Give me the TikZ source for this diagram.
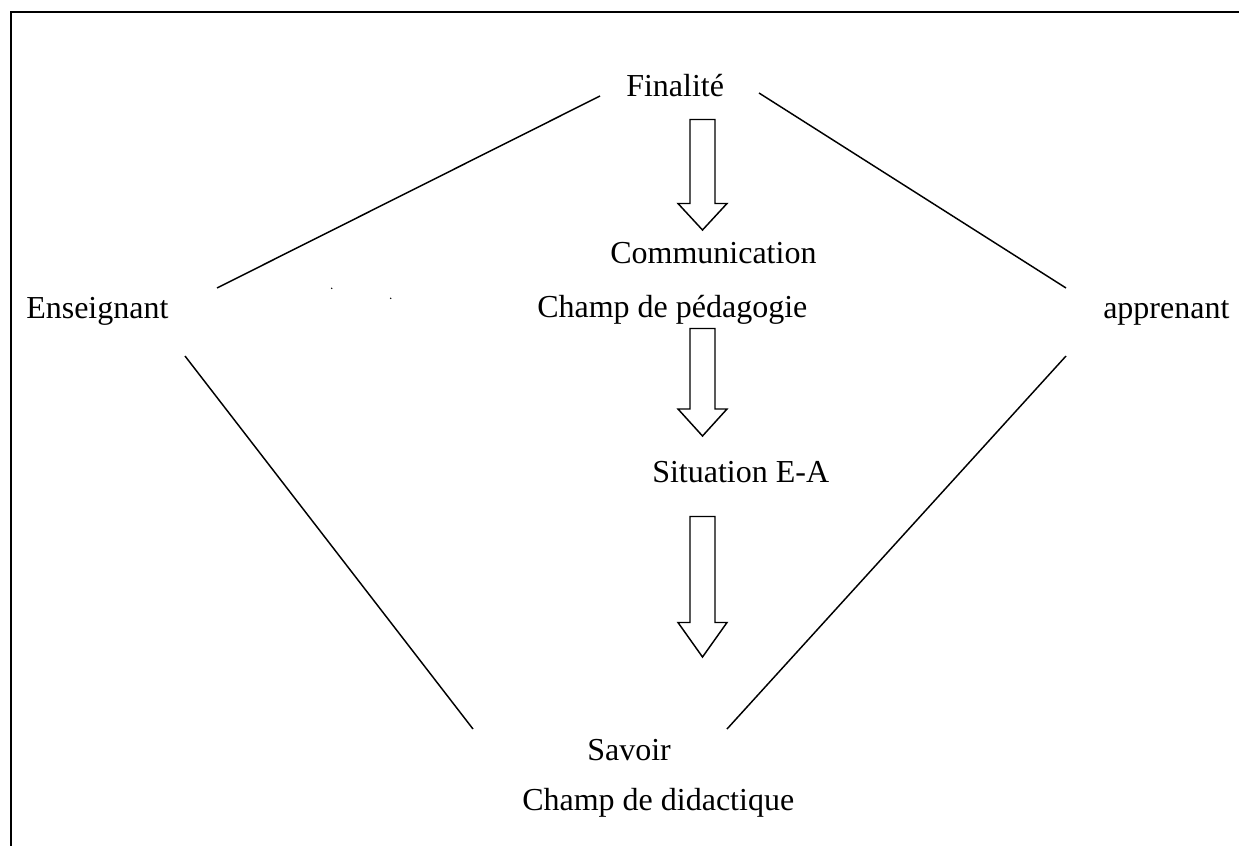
\documentclass[tikz,border=0pt]{standalone}
\usepackage{fontspec}
\setmainfont{Liberation Serif}
\begin{document}
\begin{tikzpicture}[x=0.75pt,y=-0.75pt,
  lbl/.style={anchor=base west,inner sep=0pt,font=\fontsize{24pt}{28pt}\selectfont},
  edge/.style={line width=1.1pt},
  bigarrow/.style={line width=1.1pt,line join=miter}]
\useasboundingbox (0,0) rectangle (1239,846);
% frame
\draw[line width=1.5pt] (11,846) -- (11,12) -- (1239,12);
% labels
\node[lbl] (fin) at (626,96) {Finalité};
\node[lbl] (com) at (610,263) {Communication};
\node[lbl] (ped) at (537,317) {Champ de pédagogie};
\node[lbl] (ens) at (26,318) {Enseignant};
\node[lbl] (app) at (1103,318) {apprenant};
\node[lbl] (sit) at (652,482) {Situation E-A};
\node[lbl] (sav) at (587,760) {Savoir};
\node[lbl] (did) at (522,810) {Champ de didactique};
% connector endpoints
\coordinate (a1) at (600,96);
\coordinate (a2) at (217,288);
\coordinate (b1) at (759,93);
\coordinate (b2) at (1066,288);
\coordinate (c1) at (185,356);
\coordinate (c2) at (473,729);
\coordinate (d1) at (1066,356);
\coordinate (d2) at (727,729);
\draw[edge] (a1) -- (a2);
\draw[edge] (b1) -- (b2);
\draw[edge] (c1) -- (c2);
\draw[edge] (d1) -- (d2);
% block arrows
\draw[bigarrow] (690,119.5) -- (715,119.5) -- (715,203.5) -- (727,203.5) -- (702.5,230) -- (678,203.5) -- (690,203.5) -- cycle;
\draw[bigarrow] (690,328.5) -- (715,328.5) -- (715,409) -- (727,409) -- (702.5,436) -- (678,409) -- (690,409) -- cycle;
\draw[bigarrow] (690,516.5) -- (715,516.5) -- (715,622.5) -- (727,622.5) -- (702.5,657) -- (678,622.5) -- (690,622.5) -- cycle;
% stray dots
\fill (331.7,288.3) circle (0.8);
\fill (390.7,298.3) circle (0.8);
\end{tikzpicture}
\end{document}
